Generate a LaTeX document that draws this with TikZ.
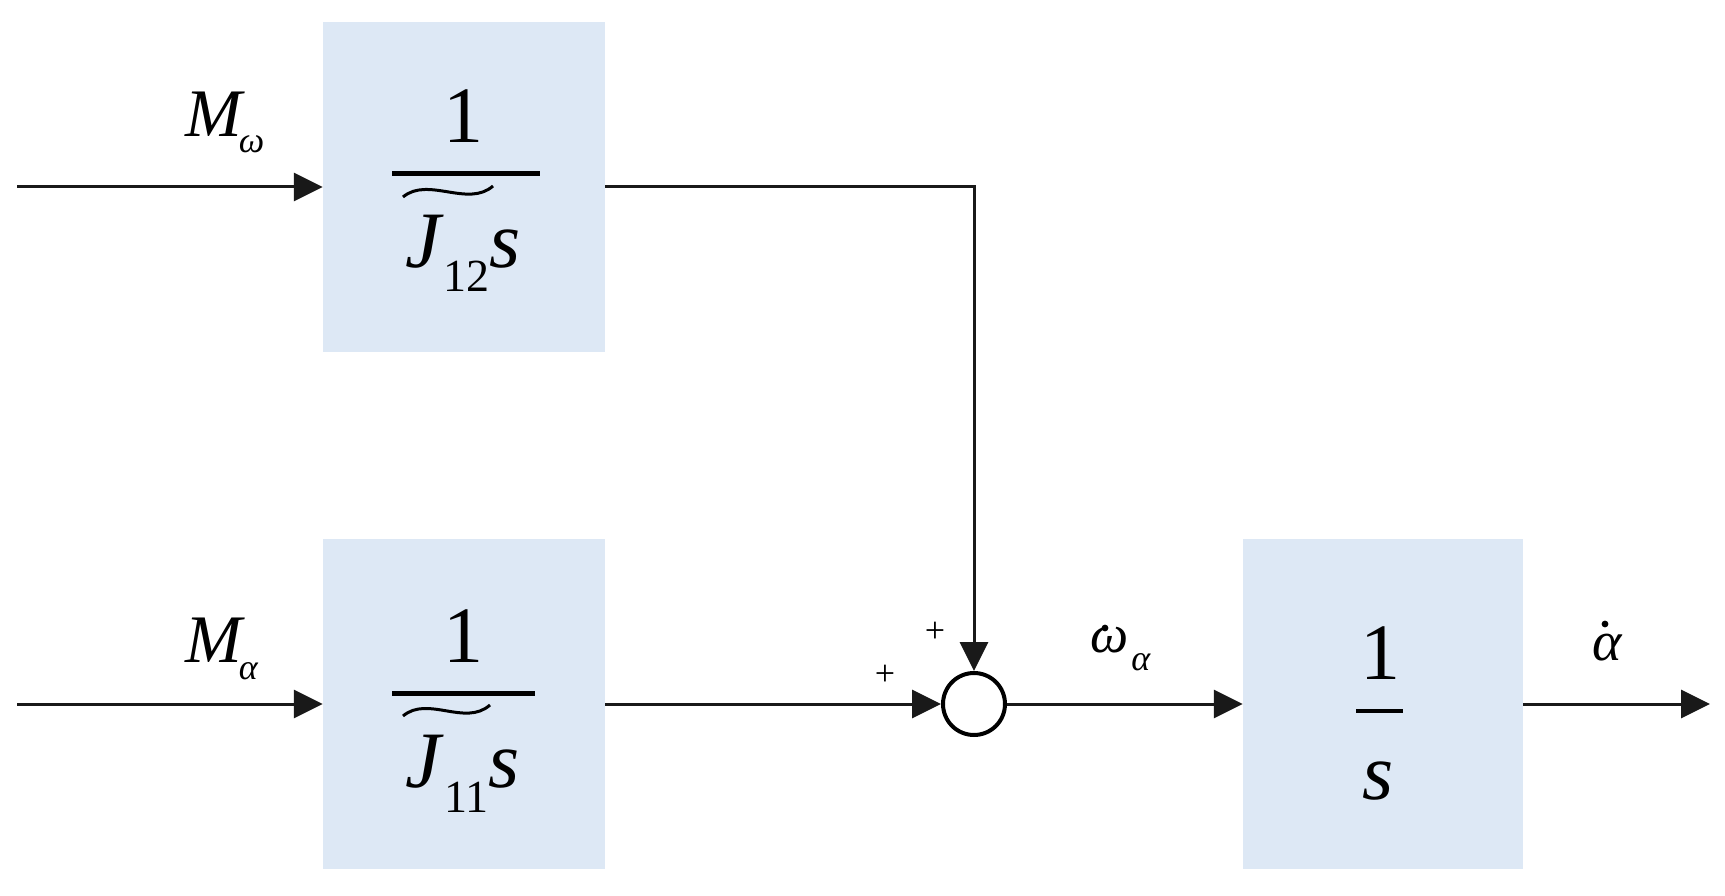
\documentclass[tikz,border=0pt]{standalone}
\usepackage{fontspec}
\setmainfont{Liberation Serif}
\usetikzlibrary{arrows.meta}
\definecolor{boxblue}{RGB}{221,232,245}
\definecolor{linegray}{RGB}{25,25,25}
\begin{document}
\begin{tikzpicture}[x=1pt,y=-1pt,
  blk/.style={fill=boxblue, draw=none, inner sep=0pt, minimum width=282pt, minimum height=330pt},
  sig/.style={line width=3pt, draw=linegray, -{Triangle[length=29pt,width=28pt]}},
  big/.style={font=\fontsize{80}{80}\selectfont, inner sep=0pt, anchor=base},
  lab/.style={inner sep=0pt, anchor=base west},
  plus/.style={font=\fontsize{36}{36}\selectfont, inner sep=0pt},
  fbar/.style={line width=5pt},
  tld/.style={line width=3pt},
  dotmark/.style={fill=black}
]
\useasboundingbox (0,0) rectangle (1725,896);
% blocks
\node[blk] (b1) at (464,187) {};
\node[blk] (b2) at (464,704) {};
\node[blk, minimum width=280pt] (b3) at (1383,704) {};
\node[circle, draw=black, line width=4pt, fill=white, minimum size=62pt, inner sep=0pt] (sum) at (974,704) {};
% free ends
\coordinate (in1) at (17,187);
\coordinate (in2) at (17,704);
\coordinate (out) at (1710,704);
% connectors
\draw[sig] (in1) -- (b1.west);
\draw[sig] (in2) -- (b2.west);
\draw[sig] (b1.east) -| (sum.north);
\draw[sig] (b2.east) -- (sum.west);
\draw[sig] (sum.east) -- (b3.west);
\draw[sig] (b3.east) -- (out);
% block 1 content
\node[big] (n1) at (463,143) {1};
\draw[fbar] (392,174) -- (540,174);
\draw[tld] (403,197) .. controls (428,176) and (468,208) .. (493,186);
\node[big] (d1) at (463,268) {\textit{J}\raisebox{-24pt}{\fontsize{46}{46}\selectfont 12}\textit{s}};
% block 2 content
\node[big] (n2) at (463,662) {1};
\draw[fbar] (392,693) -- (535,693);
\draw[tld] (403,716) .. controls (428,695) and (465,727) .. (490,705);
\node[big] (d2) at (463,787) {\textit{J}\raisebox{-25pt}{\fontsize{46}{46}\selectfont 11}\textit{s}};
% block 3 content
\node[big] (n3) at (1380,679) {1};
\draw[line width=4pt] (1356,711) -- (1403,711);
\node[big] (d3) at (1378,799) {\textit{s}};
% labels
\node[lab] (mw) at (185,137) {\fontsize{68}{68}\selectfont\textit{M}\hspace{-6pt}\raisebox{-16pt}{\fontsize{36}{36}\selectfont\textit{ω}}};
\node[lab] (ma) at (185,662) {\fontsize{68}{68}\selectfont\textit{M}\hspace{-6pt}\raisebox{-17pt}{\fontsize{36}{36}\selectfont\textit{α}}};
\node[lab] (wa) at (1090,652) {\fontsize{54}{54}\selectfont\textit{ω}\hspace{3pt}\raisebox{-18pt}{\fontsize{36}{36}\selectfont\textit{α}}};
\fill[dotmark] (1105,628) circle (3.4pt);
\node[big, font=\fontsize{56}{56}\selectfont] (ad) at (1608,660) {\textit{α}};
\fill[dotmark] (1605,624) circle (3.4pt);
\node[plus] (p1) at (885,675) {+};
\node[plus] (p2) at (935,632) {+};
\end{tikzpicture}
\end{document}
